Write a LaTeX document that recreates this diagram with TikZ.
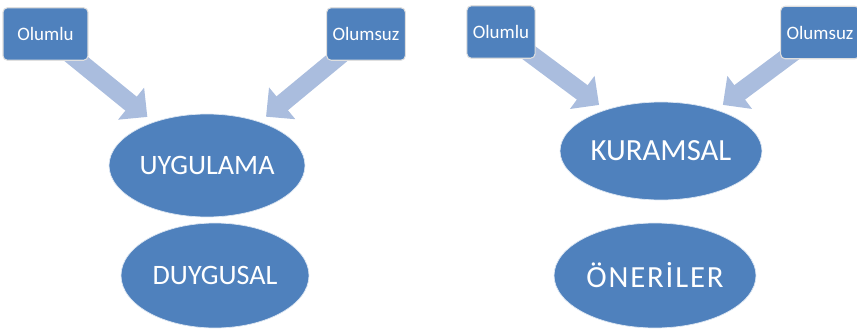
\documentclass[tikz,border=0pt]{standalone}
\usepackage{fontspec}
\setmainfont{Carlito}
\usepackage{tikz}
\usetikzlibrary{arrows.meta, shapes.geometric, backgrounds}
\definecolor{shapeblue}{RGB}{79, 129, 189}
\definecolor{arrowblue}{RGB}{170, 189, 222}

\begin{document}
\begin{tikzpicture}[
          x=0.02cm, y=-0.02cm,
          tag/.style={draw=white!75!gray, line width=0.6pt, rounded corners=2.5pt, fill=shapeblue,
                      minimum height=1.05cm, text=white, font=\fontsize{10.8}{12}\selectfont},
          topic/.style={ellipse, draw=white!80!shapeblue, fill=shapeblue, inner sep=0pt,
                      text=white, font=\fontsize{16}{19}\selectfont},
          arr/.style={-{Triangle[width=0.8cm, length=0.42cm]}, line width=0.36cm, color=arrowblue,
                      shorten <=-0.3cm, shorten >=0.16cm},
        ]
        \useasboundingbox (0,0) rectangle (857,328);

        \node[topic, minimum width=3.92cm, minimum height=2.06cm] (uyg) at (207,165.5) {UYGULAMA};
        \node[topic, minimum width=3.76cm, minimum height=2.1cm]  (duy) at (215,275.5) {DUYGUSAL};
        \node[tag, minimum width=1.7cm]  (olumluA)  at (45.5,34) {Olumlu};
        \node[tag, minimum width=1.52cm] (olumsuzA) at (366,34) {Olumsuz};

        \node[topic, minimum width=4.04cm, minimum height=1.96cm,
              font=\fontsize{17.5}{20}\selectfont] (kur) at (661,151) {KURAMSAL};
        \node[topic, minimum width=4.04cm, minimum height=2.1cm,
              font=\fontsize{17.5}{20}\selectfont\addfontfeature{LetterSpace=6}] (one) at (655,275.5) {ÖNERİLER};
        \node[tag, minimum width=1.36cm] (olumluB)  at (501,32) {Olumlu};
        \node[tag, minimum width=1.52cm] (olumsuzB) at (820,32.5) {Olumsuz};

        \begin{scope}[on background layer]
          \draw[arr] (olumluA)  -- (uyg);
          \draw[arr] (olumsuzA) -- (uyg);
          \draw[arr] (olumluB)  -- (kur);
          \draw[arr] (olumsuzB) -- (kur);
        \end{scope}
      \end{tikzpicture}
\end{document}
